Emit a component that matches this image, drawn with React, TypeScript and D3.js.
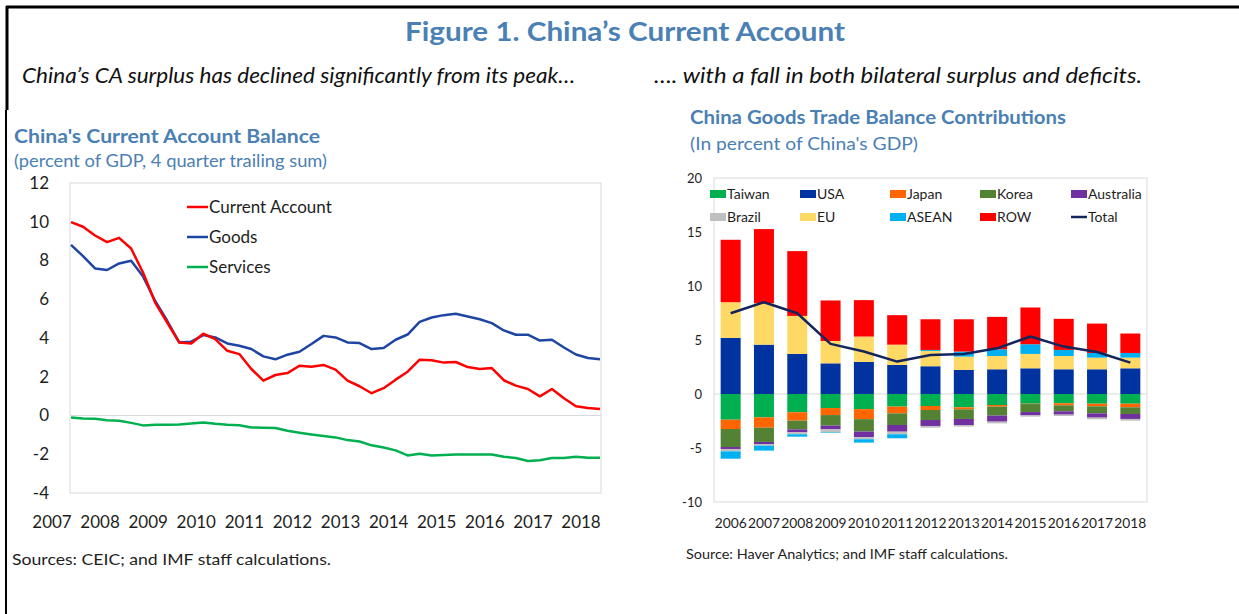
import React from 'react';
import * as d3 from 'd3';

// ---------- Left chart data (quarterly, 2007Q1 - 2018Q1) ----------
const currentAccount = [9.98, 9.74, 9.29, 8.95, 9.17, 8.62, 7.37, 5.83, 4.80, 3.77, 3.72, 4.22, 3.94, 3.34, 3.17, 2.40, 1.80, 2.09, 2.19, 2.57, 2.52, 2.61, 2.37, 1.80, 1.51, 1.15, 1.41, 1.85, 2.26, 2.88, 2.85, 2.73, 2.76, 2.50, 2.40, 2.45, 1.82, 1.54, 1.37, 0.99, 1.37, 0.89, 0.48, 0.39, 0.34];
const goods = [8.81, 8.23, 7.59, 7.51, 7.85, 7.99, 7.17, 5.91, 4.89, 3.77, 3.81, 4.15, 4.03, 3.72, 3.60, 3.43, 3.05, 2.90, 3.14, 3.29, 3.69, 4.11, 4.03, 3.77, 3.74, 3.43, 3.48, 3.91, 4.18, 4.83, 5.06, 5.18, 5.25, 5.11, 4.97, 4.77, 4.39, 4.17, 4.17, 3.87, 3.91, 3.51, 3.15, 2.97, 2.90];
const services = [-0.10, -0.15, -0.17, -0.24, -0.27, -0.38, -0.51, -0.48, -0.48, -0.46, -0.41, -0.36, -0.43, -0.48, -0.50, -0.62, -0.63, -0.65, -0.79, -0.89, -0.98, -1.06, -1.13, -1.27, -1.34, -1.54, -1.65, -1.80, -2.06, -1.97, -2.06, -2.04, -2.01, -2.01, -2.01, -2.01, -2.13, -2.19, -2.35, -2.31, -2.19, -2.19, -2.13, -2.18, -2.18];
const leftYearLabels = ['2007', '2008', '2009', '2010', '2011', '2012', '2013', '2014', '2015', '2016', '2017', '2018'];
const leftYTicks = [12, 10, 8, 6, 4, 2, 0, -2, -4];

// ---------- Right chart data (annual) ----------
const years = ['2006', '2007', '2008', '2009', '2010', '2011', '2012', '2013', '2014', '2015', '2016', '2017', '2018'];
const taiwan = [-2.38, -2.16, -1.69, -1.30, -1.40, -1.17, -1.11, -1.23, -1.02, -0.90, -0.86, -0.90, -0.90];
const usa = [5.19, 4.57, 3.71, 2.84, 2.97, 2.69, 2.57, 2.23, 2.29, 2.38, 2.29, 2.29, 2.38];
const japan = [-0.86, -0.96, -0.78, -0.65, -0.93, -0.62, -0.37, -0.19, -0.15, -0.03, -0.19, -0.24, -0.33];
const korea = [-1.67, -1.32, -0.80, -0.98, -1.15, -1.08, -0.93, -0.89, -0.83, -0.74, -0.55, -0.65, -0.62];
const australia = [-0.18, -0.19, -0.28, -0.34, -0.52, -0.62, -0.55, -0.56, -0.56, -0.31, -0.31, -0.40, -0.46];
const brazil = [-0.22, -0.15, -0.18, -0.28, -0.19, -0.24, -0.16, -0.15, -0.16, -0.12, -0.13, -0.15, -0.16];
const eu = [3.31, 3.84, 3.52, 2.07, 2.35, 1.88, 1.42, 1.23, 1.23, 1.33, 1.23, 1.08, 0.99];
const asean = [-0.68, -0.46, -0.22, -0.05, -0.31, -0.37, 0.09, 0.47, 0.62, 0.90, 0.56, 0.43, 0.43];
const row = [5.78, 6.86, 6.00, 3.75, 3.37, 2.73, 2.84, 2.99, 3.00, 3.40, 2.88, 2.72, 1.80];
const total = [7.48, 8.50, 7.48, 4.64, 3.93, 3.00, 3.62, 3.71, 4.23, 5.32, 4.39, 3.89, 2.91];
const rightYTicks = [20, 15, 10, 5, 0, -5, -10];

const seriesKeys = ['Taiwan', 'USA', 'Japan', 'Korea', 'Australia', 'Brazil', 'EU', 'ASEAN', 'ROW'];
const seriesValues: Record<string, number[]> = {
  Taiwan: taiwan, USA: usa, Japan: japan, Korea: korea, Australia: australia,
  Brazil: brazil, EU: eu, ASEAN: asean, ROW: row,
};
const seriesColors: Record<string, string> = {
  Taiwan: '#00b050', USA: '#0033a0', Japan: '#ff6600', Korea: '#548235', Australia: '#7030a0',
  Brazil: '#bfbfbf', EU: '#ffd966', ASEAN: '#00b0f0', ROW: '#ff0000',
};
const legendRows = [
  ['Taiwan', 'USA', 'Japan', 'Korea', 'Australia'],
  ['Brazil', 'EU', 'ASEAN', 'ROW', 'Total'],
];

const FONT = "Lato, 'Open Sans', sans-serif";
const BLUE_TEXT = '#4a80b4';
const TEXT = '#1e1e1e';

export default function App() {
  // ----- left chart scales -----
  const L = { x0: 70, x1: 601, y0: 183, y1: 493 };
  const xL = d3.scaleLinear().domain([0, currentAccount.length - 1]).range([L.x0 + 1, L.x1 - 1]);
  const yL = d3.scaleLinear().domain([-4, 12]).range([L.y1, L.y0]);
  const lineL = (vals: number[]) =>
    d3.line<number>().x((_, i) => xL(i)).y((v) => yL(v))(vals) as string;

  // ----- right chart scales -----
  const R = { x0: 714, x1: 1147, y0: 178, y1: 502 };
  const xR = d3.scaleBand<string>().domain(years).range([R.x0, R.x1]).paddingInner(0.4).paddingOuter(0.2);
  const yR = d3.scaleLinear().domain([-10, 20]).range([R.y1, R.y0]);
  const table = years.map((y, i) => {
    const o: Record<string, number | string> = { year: y };
    seriesKeys.forEach((k) => (o[k] = seriesValues[k][i]));
    return o;
  });
  const stacked = d3.stack<any>().keys(seriesKeys).offset(d3.stackOffsetDiverging)(table);
  const totalLine = d3
    .line<number>()
    .x((_, i) => (xR(years[i]) as number) + xR.bandwidth() / 2)
    .y((v) => yR(v))(total) as string;

  const legendColX = [710, 800, 890, 980, 1071];
  const legendRowY = [194, 217];

  return (
    <svg
      width={1239}
      height={614}
      style={{ position: 'absolute', left: 0, top: 0, background: '#fff' }}
      fontFamily={FONT}
    >
      <rect x={0} y={0} width={1239} height={614} fill="#fff" />
      {/* frame */}
      <line x1={6} x2={1239} y1={7} y2={7} stroke="#000" strokeWidth={3} />
      <line x1={7} x2={7} y1={6} y2={110} stroke="#000" strokeWidth={3} />
      <line x1={6} x2={6} y1={110} y2={614} stroke="#000" strokeWidth={2} />

      {/* headings */}
      <text x={405} y={41} fontSize={26} fontWeight={700} fill={BLUE_TEXT} textLength={440} lengthAdjust="spacingAndGlyphs">
        Figure 1. China’s Current Account
      </text>
      <text x={22} y={83} fontSize={21} fontStyle="italic" fill="#111" textLength={553} lengthAdjust="spacingAndGlyphs">
        China’s CA surplus has declined significantly from its peak…
      </text>
      <text x={654} y={83} fontSize={21} fontStyle="italic" fill="#111" textLength={488} lengthAdjust="spacingAndGlyphs">
        …. with a fall in both bilateral surplus and deficits.
      </text>

      {/* ================= LEFT CHART ================= */}
      <text x={14} y={143} fontSize={19} fontWeight={700} fill={BLUE_TEXT} textLength={306} lengthAdjust="spacingAndGlyphs">
        China's Current Account Balance
      </text>
      <text x={14} y={167} fontSize={17} fill={BLUE_TEXT} textLength={313} lengthAdjust="spacingAndGlyphs">
        (percent of GDP, 4 quarter trailing sum)
      </text>
      <rect x={L.x0} y={L.y0} width={L.x1 - L.x0} height={L.y1 - L.y0} fill="none" stroke="#d9d9d9" strokeWidth={1} />
      <line x1={L.x0} x2={L.x1} y1={yL(0)} y2={yL(0)} stroke="#d9d9d9" strokeWidth={1} />
      {leftYTicks.map((t) => (
        <text key={t} x={49} y={yL(t)} dy="0.35em" textAnchor="end" fontSize={17} fill={TEXT}>
          {t}
        </text>
      ))}
      {leftYearLabels.map((lab, i) => (
        <text key={lab} x={xL(i * 4) - 19} y={528} textAnchor="middle" fontSize={17} fill={TEXT}>
          {lab}
        </text>
      ))}
      <path d={lineL(services)} fill="none" stroke="#00b050" strokeWidth={2.5} strokeLinejoin="round" />
      <path d={lineL(goods)} fill="none" stroke="#1f45a3" strokeWidth={2.5} strokeLinejoin="round" />
      <path d={lineL(currentAccount)} fill="none" stroke="#ff0000" strokeWidth={2.5} strokeLinejoin="round" />
      {[
        { name: 'Current Account', color: '#ff0000' },
        { name: 'Goods', color: '#1f45a3' },
        { name: 'Services', color: '#00b050' },
      ].map((d, i) => (
        <g key={d.name}>
          <line x1={187} x2={208} y1={207 + i * 30} y2={207 + i * 30} stroke={d.color} strokeWidth={2.5} />
          <text x={209} y={207 + i * 30} dy="0.35em" fontSize={17} fill={TEXT}>
            {d.name}
          </text>
        </g>
      ))}
      <text x={12} y={565} fontSize={16} fill={TEXT} textLength={319} lengthAdjust="spacingAndGlyphs">
        Sources: CEIC; and IMF staff calculations.
      </text>

      {/* ================= RIGHT CHART ================= */}
      <text x={690} y={124} fontSize={18} fontWeight={700} fill={BLUE_TEXT} textLength={376} lengthAdjust="spacingAndGlyphs">
        China Goods Trade Balance Contributions
      </text>
      <text x={690} y={150} fontSize={17} fill={BLUE_TEXT} textLength={228} lengthAdjust="spacingAndGlyphs">
        (In percent of China's GDP)
      </text>
      <rect x={R.x0} y={R.y0} width={R.x1 - R.x0} height={R.y1 - R.y0} fill="none" stroke="#d9d9d9" strokeWidth={1} />
      <line x1={R.x0} x2={R.x1} y1={yR(0)} y2={yR(0)} stroke="#d9d9d9" strokeWidth={1} />
      {rightYTicks.map((t) => (
        <text key={t} x={702} y={yR(t)} dy="0.35em" textAnchor="end" fontSize={13} fill={TEXT}>
          {t}
        </text>
      ))}
      {years.map((y) => (
        <text key={y} x={(xR(y) as number) + xR.bandwidth() / 2} y={528} textAnchor="middle" fontSize={13} fill={TEXT} textLength={32} lengthAdjust="spacingAndGlyphs">
          {y}
        </text>
      ))}
      {stacked.map((s) => (
        <g key={s.key} fill={seriesColors[s.key]}>
          {s.map((d, i) => {
            const top = yR(Math.max(d[0], d[1]));
            const bot = yR(Math.min(d[0], d[1]));
            return (
              <rect key={i} x={xR(years[i])} y={top} width={xR.bandwidth()} height={Math.max(0, bot - top)} />
            );
          })}
        </g>
      ))}
      <path d={totalLine} fill="none" stroke="#14255c" strokeWidth={2.5} strokeLinejoin="round" />
      {legendRows.map((rowKeys, r) =>
        rowKeys.map((k, c) => (
          <g key={k}>
            {k === 'Total' ? (
              <line x1={legendColX[c]} x2={legendColX[c] + 16} y1={legendRowY[r]} y2={legendRowY[r]} stroke="#14255c" strokeWidth={2.5} />
            ) : (
              <rect x={legendColX[c]} y={legendRowY[r] - 4} width={16} height={8} fill={seriesColors[k]} />
            )}
            <text x={legendColX[c] + 17} y={legendRowY[r]} dy="0.35em" fontSize={14} fill={TEXT}>
              {k}
            </text>
          </g>
        ))
      )}
      <text x={686} y={559} fontSize={13} fill={TEXT} textLength={322} lengthAdjust="spacingAndGlyphs">
        Source: Haver Analytics; and IMF staff calculations.
      </text>
    </svg>
  );
}
